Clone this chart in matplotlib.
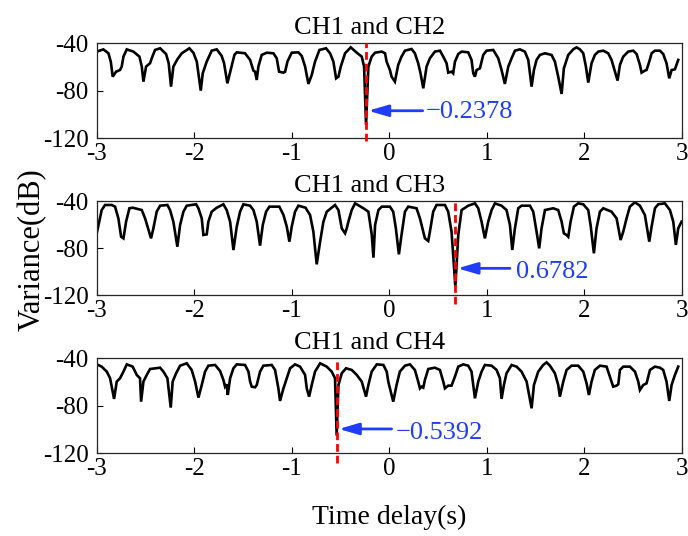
import matplotlib
matplotlib.use('Agg')
import matplotlib.pyplot as plt
from matplotlib.patches import FancyArrowPatch

# ---- data: (time delay s, variance dB) ----
ch12 = [(-3.000, -47.0), (-2.932, -45.1), (-2.880, -48.4), (-2.856, -55.4), (-2.836, -68.1), (-2.802, -63.9),
        (-2.761, -62.5), (-2.744, -59.6), (-2.726, -51.2), (-2.692, -45.1), (-2.624, -47.0), (-2.562, -51.2),
        (-2.538, -59.6), (-2.521, -72.3), (-2.494, -59.6), (-2.453, -56.8), (-2.436, -52.6), (-2.402, -45.6),
        (-2.350, -44.2), (-2.289, -49.0), (-2.262, -56.8), (-2.238, -76.5), (-2.214, -59.6), (-2.173, -53.5),
        (-2.128, -48.4), (-2.050, -44.2), (-2.009, -47.9), (-1.974, -55.4), (-1.933, -79.9), (-1.913, -65.3),
        (-1.872, -55.4), (-1.821, -46.2), (-1.769, -45.1), (-1.718, -50.7), (-1.694, -56.8), (-1.660, -73.7),
        (-1.626, -62.5), (-1.588, -49.8), (-1.564, -47.6), (-1.479, -48.4), (-1.427, -54.0), (-1.393, -63.0),
        (-1.376, -63.9), (-1.359, -70.9), (-1.342, -59.6), (-1.308, -49.8), (-1.256, -47.9), (-1.188, -48.4),
        (-1.154, -52.6), (-1.130, -63.9), (-1.085, -64.7), (-1.068, -63.9), (-1.044, -55.4), (-1.000, -47.9),
        (-0.932, -47.6), (-0.897, -50.7), (-0.863, -59.6), (-0.829, -74.2), (-0.795, -66.7), (-0.761, -55.4),
        (-0.716, -45.6), (-0.648, -44.2), (-0.607, -48.4), (-0.573, -55.4), (-0.545, -69.5), (-0.521, -68.1),
        (-0.497, -59.6), (-0.453, -48.4), (-0.395, -43.4), (-0.333, -47.9), (-0.282, -51.2), (-0.258, -59.6),
        (-0.2378, -108.8), (-0.214, -59.6), (-0.180, -51.2), (-0.145, -47.9), (-0.077, -47.0), (-0.043, -48.4),
        (-0.027, -55.4), (0.007, -62.5), (0.024, -68.1), (0.058, -72.3), (0.092, -58.2), (0.126, -51.2),
        (0.161, -46.2), (0.229, -44.8), (0.263, -48.4), (0.297, -56.8), (0.321, -65.3), (0.349, -77.9),
        (0.383, -59.6), (0.417, -52.6), (0.468, -47.0), (0.520, -46.2), (0.554, -51.2), (0.588, -56.8),
        (0.605, -64.7), (0.639, -63.9), (0.656, -65.3), (0.674, -55.4), (0.708, -49.0), (0.742, -47.0),
        (0.810, -47.6), (0.844, -54.0), (0.862, -65.3), (0.879, -68.1), (0.896, -62.5), (0.930, -61.1),
        (0.964, -49.8), (0.998, -46.2), (1.067, -45.6), (1.118, -52.6), (1.152, -62.5), (1.186, -74.2),
        (1.221, -59.6), (1.255, -52.6), (1.289, -46.2), (1.340, -45.1), (1.391, -47.0), (1.426, -54.0),
        (1.460, -76.5), (1.484, -62.5), (1.511, -54.0), (1.545, -49.8), (1.597, -48.4), (1.665, -49.8),
        (1.699, -55.4), (1.733, -68.1), (1.768, -82.7), (1.791, -61.1), (1.836, -49.8), (1.887, -45.1),
        (1.921, -43.4), (1.956, -45.1), (1.990, -48.4), (2.017, -59.6), (2.041, -73.1), (2.075, -56.8),
        (2.109, -49.8), (2.144, -47.0), (2.195, -46.2), (2.246, -48.4), (2.280, -54.0), (2.315, -63.9),
        (2.342, -71.4), (2.366, -58.2), (2.400, -51.2), (2.451, -47.0), (2.503, -46.2), (2.537, -49.0),
        (2.571, -58.2), (2.588, -64.7), (2.622, -63.0), (2.639, -62.5), (2.667, -55.4), (2.691, -48.4),
        (2.725, -46.2), (2.776, -46.2), (2.810, -49.0), (2.844, -56.8), (2.872, -69.5), (2.896, -62.5),
        (2.930, -61.9), (2.964, -54.0)]

ch13 = [(-3.000, -67.5), (-2.949, -47.7), (-2.915, -43.4), (-2.846, -43.4), (-2.812, -44.8), (-2.778, -54.8),
        (-2.750, -70.4), (-2.726, -71.8), (-2.699, -57.6), (-2.665, -46.2), (-2.631, -45.7), (-2.538, -47.7),
        (-2.504, -54.8), (-2.443, -71.8), (-2.419, -63.3), (-2.385, -49.1), (-2.350, -44.0), (-2.275, -43.4),
        (-2.248, -47.7), (-2.214, -57.6), (-2.173, -78.9), (-2.145, -60.4), (-2.111, -49.1), (-2.077, -44.0),
        (-1.981, -42.8), (-1.957, -46.2), (-1.923, -54.8), (-1.906, -68.9), (-1.872, -68.4), (-1.855, -57.6),
        (-1.821, -49.1), (-1.769, -45.7), (-1.701, -42.8), (-1.667, -47.7), (-1.632, -57.6), (-1.598, -81.7),
        (-1.564, -61.8), (-1.530, -49.1), (-1.496, -42.8), (-1.427, -44.0), (-1.393, -47.7), (-1.359, -57.6),
        (-1.325, -78.0), (-1.297, -60.4), (-1.263, -49.1), (-1.229, -44.8), (-1.127, -44.8), (-1.085, -51.9),
        (-1.051, -61.8), (-1.024, -74.6), (-1.000, -61.8), (-0.966, -49.1), (-0.932, -44.0), (-0.859, -45.7),
        (-0.812, -51.9), (-0.778, -66.1), (-0.744, -93.9), (-0.709, -74.6), (-0.675, -57.6), (-0.641, -49.1),
        (-0.556, -43.4), (-0.521, -47.7), (-0.487, -63.3), (-0.453, -67.5), (-0.436, -63.3), (-0.419, -57.6),
        (-0.385, -47.7), (-0.350, -42.0), (-0.265, -46.2), (-0.214, -49.1), (-0.179, -68.9), (-0.162, -88.2),
        (-0.145, -60.4), (-0.111, -47.7), (-0.077, -44.8), (0.007, -44.8), (0.041, -49.1), (0.068, -63.3),
        (0.099, -85.4), (0.126, -68.9), (0.161, -49.1), (0.195, -44.8), (0.280, -46.2), (0.315, -54.8),
        (0.366, -71.8), (0.400, -74.0), (0.417, -66.1), (0.451, -49.1), (0.485, -43.4), (0.571, -43.4),
        (0.605, -49.1), (0.639, -66.1), (0.6782, -112.9), (0.708, -68.9), (0.742, -47.7), (0.810, -44.0),
        (0.879, -42.0), (0.913, -46.2), (0.947, -57.6), (0.981, -71.8), (1.015, -57.6), (1.050, -47.7),
        (1.084, -42.0), (1.152, -44.0), (1.203, -47.7), (1.238, -60.4), (1.262, -81.7), (1.289, -63.3),
        (1.323, -46.2), (1.357, -44.0), (1.443, -44.0), (1.477, -49.1), (1.511, -66.1), (1.538, -80.3),
        (1.562, -63.3), (1.597, -47.7), (1.682, -46.2), (1.733, -47.7), (1.768, -57.6), (1.791, -67.5),
        (1.819, -68.9), (1.836, -70.4), (1.860, -57.6), (1.894, -44.8), (1.938, -42.0), (1.990, -42.8),
        (2.041, -47.7), (2.065, -60.4), (2.099, -84.5), (2.126, -63.3), (2.161, -49.1), (2.195, -46.2),
        (2.280, -49.1), (2.332, -54.8), (2.373, -73.2), (2.400, -66.1), (2.434, -54.8), (2.468, -44.8),
        (2.520, -41.1), (2.571, -44.0), (2.622, -51.9), (2.667, -74.6), (2.691, -61.8), (2.725, -46.2),
        (2.759, -42.8), (2.827, -42.0), (2.879, -47.7), (2.913, -57.6), (2.940, -77.4), (2.964, -63.3),
        (2.998, -57.6)]

ch14 = [(-3.000, -45.1), (-2.949, -47.0), (-2.897, -51.2), (-2.863, -56.8), (-2.822, -74.2), (-2.795, -59.6),
        (-2.761, -56.8), (-2.726, -51.2), (-2.692, -45.1), (-2.631, -47.0), (-2.590, -54.0), (-2.556, -56.8),
        (-2.545, -76.5), (-2.521, -59.6), (-2.487, -54.0), (-2.453, -49.0), (-2.350, -47.9), (-2.316, -51.2),
        (-2.275, -56.8), (-2.241, -81.5), (-2.221, -59.6), (-2.186, -52.6), (-2.145, -46.2), (-2.077, -44.2),
        (-2.026, -49.8), (-1.991, -59.6), (-1.957, -73.1), (-1.923, -62.5), (-1.889, -51.2), (-1.855, -46.2),
        (-1.786, -45.6), (-1.735, -50.7), (-1.701, -58.2), (-1.684, -63.9), (-1.667, -61.9), (-1.656, -70.9),
        (-1.632, -56.8), (-1.598, -48.4), (-1.564, -45.1), (-1.479, -45.6), (-1.444, -51.2), (-1.427, -59.6),
        (-1.410, -63.9), (-1.376, -64.4), (-1.359, -62.5), (-1.325, -51.2), (-1.291, -46.2), (-1.205, -45.6),
        (-1.171, -49.8), (-1.137, -65.3), (-1.120, -75.9), (-1.085, -65.3), (-1.051, -56.8), (-1.017, -48.4),
        (-0.966, -45.1), (-0.915, -47.0), (-0.863, -54.0), (-0.846, -65.3), (-0.822, -72.3), (-0.795, -62.5),
        (-0.761, -51.2), (-0.709, -44.2), (-0.641, -47.0), (-0.590, -51.2), (-0.556, -56.8), (-0.5392, -105.1),
        (-0.521, -62.5), (-0.487, -52.6), (-0.443, -48.4), (-0.385, -49.8), (-0.333, -54.0), (-0.282, -59.6),
        (-0.238, -72.3), (-0.214, -62.5), (-0.180, -51.2), (-0.128, -45.1), (-0.060, -45.6), (-0.026, -51.2),
        (-0.010, -59.6), (0.041, -76.5), (0.075, -62.5), (0.109, -51.2), (0.161, -46.2), (0.212, -45.1),
        (0.263, -49.8), (0.297, -59.6), (0.315, -65.3), (0.332, -63.9), (0.349, -64.7), (0.366, -58.2),
        (0.400, -49.0), (0.468, -47.9), (0.520, -49.8), (0.554, -59.6), (0.571, -65.3), (0.605, -63.0),
        (0.639, -63.0), (0.674, -55.4), (0.708, -47.0), (0.759, -45.1), (0.810, -46.2), (0.844, -51.2),
        (0.879, -73.7), (0.913, -59.6), (0.947, -51.2), (0.981, -45.6), (1.050, -46.2), (1.101, -49.8),
        (1.135, -56.8), (1.152, -74.2), (1.176, -62.5), (1.203, -52.6), (1.255, -45.6), (1.306, -47.0),
        (1.357, -51.2), (1.409, -59.6), (1.460, -82.1), (1.484, -62.5), (1.528, -51.2), (1.579, -45.6),
        (1.614, -43.4), (1.648, -46.2), (1.699, -52.6), (1.733, -62.5), (1.750, -72.3), (1.785, -59.6),
        (1.819, -49.8), (1.870, -46.2), (1.938, -46.2), (1.990, -51.2), (2.024, -61.1), (2.048, -70.9),
        (2.075, -59.6), (2.109, -49.8), (2.161, -46.2), (2.229, -47.0), (2.263, -55.4), (2.297, -63.9),
        (2.332, -63.0), (2.349, -61.9), (2.366, -49.8), (2.400, -47.0), (2.468, -47.0), (2.520, -51.2),
        (2.554, -59.6), (2.571, -66.7), (2.605, -62.5), (2.639, -61.1), (2.674, -49.8), (2.725, -47.0),
        (2.776, -47.9), (2.810, -49.8), (2.844, -59.6), (2.872, -75.9), (2.896, -62.5), (2.930, -54.0),
        (2.964, -47.0)]

series = [ch12, ch13, ch14]
titles = ['CH1 and CH2', 'CH1 and CH3', 'CH1 and CH4']
delays = [-0.2378, 0.6782, -0.5392]
delay_labels = ['\u22120.2378', '0.6782', '\u22120.5392']
xticks = [-3, -2, -1, 0, 1, 2, 3]
yticks = [-120, -80, -40]

# ---- layout / style (not data) ----
plt.rcParams['font.family'] = ['Liberation Serif', 'DejaVu Serif']
plt.rcParams['axes.unicode_minus'] = False

fig = plt.figure(figsize=(6.88, 5.36), dpi=100)
positions = [[0.1406, 0.742, 0.8503, 0.1772],
             [0.1406, 0.4496, 0.8503, 0.1754],
             [0.1406, 0.1543, 0.8503, 0.1772]]
arrow_y = [-96.8, -97.3, -99.5]
arrow_tail = [0.343, 1.238, 0.024]
arrow_tip_off = 0.022
text_x = [0.375, 1.300, 0.068]
text_dy = [-1.0, -3.0, -3.0]
line_ext = [-0.03, -0.1, -0.1]
blue = '#1f3cff'

for i, data in enumerate(series):
    ax = fig.add_axes(positions[i])
    t = [p[0] for p in data]
    v = [p[1] for p in data]
    ax.plot(t, v, color='black', lw=1.9, zorder=2, solid_joinstyle='miter')
    ax.axvline(delays[i], ymin=line_ext[i], ymax=1.0, color='red', lw=2.0, ls=(0, (2.8, 1.4)),
               zorder=3, clip_on=False)
    ax.set_xlim(-3, 3)
    ax.set_ylim(-120, -40)
    ax.set_xticks(xticks)
    ax.set_yticks(yticks)
    ax.set_xticklabels([str(x) for x in xticks])
    ax.set_yticklabels([str(y) for y in yticks])
    ax.tick_params(direction='in', length=4, width=0.8, labelsize=18, colors='black')
    ax.tick_params(axis='y', pad=6)
    ax.tick_params(axis='x', pad=3.5)
    for s in ax.spines.values():
        s.set_linewidth(0.9)
        s.set_color('#262626')
    ax.set_title(titles[i], fontsize=19, x=0.467, pad=6.5)
    arr = FancyArrowPatch((arrow_tail[i], arrow_y[i]), (delays[i] + arrow_tip_off, arrow_y[i]),
                          arrowstyle='-|>,head_length=12,head_width=3.5', color=blue, lw=2.0,
                          shrinkA=0, shrinkB=0, zorder=4, mutation_scale=1)
    ax.add_patch(arr)
    ax.text(text_x[i], arrow_y[i] + text_dy[i], delay_labels[i], color=blue, fontsize=19,
            ha='left', va='center', zorder=5)

fig.text(32 / 688, 1 - 250 / 536, 'Variance(dB)', rotation=90, fontsize=22, ha='center', va='center')
fig.text(389 / 688, 1 - 517 / 536, 'Time delay(s)', fontsize=20, ha='center', va='center')

fig.savefig('out.png', dpi=100)
